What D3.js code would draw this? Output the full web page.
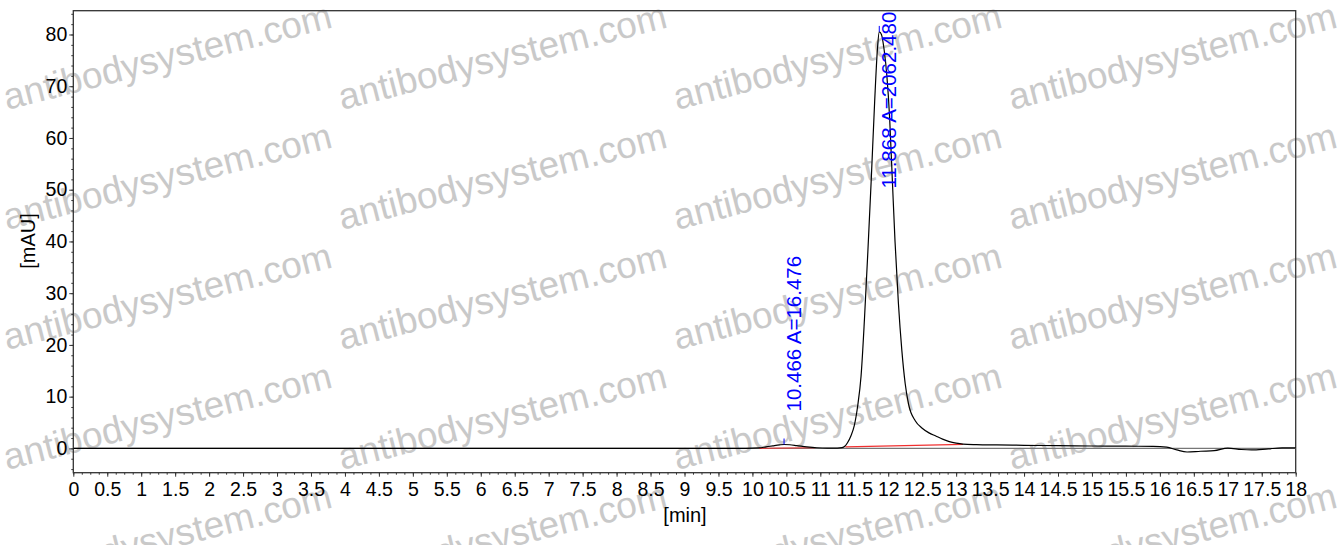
<!DOCTYPE html>
<html>
<head>
<meta charset="utf-8">
<script src="https://cdn.jsdelivr.net/npm/d3@7"></script>
<style>
  body { margin: 0; background: #fff; }
  svg { display: block; font-family: "Liberation Sans", Arial, sans-serif; }
</style>
</head>
<body>
<div id="chart"></div>
<script>
// chromatogram trace (min, mAU)
const traceTime = [0, 2, 4, 6, 8, 9.5, 9.9, 10.1, 10.2, 10.3, 10.4, 10.466, 10.55, 10.65, 10.8, 10.95, 11.1, 11.25,
  11.32, 11.36, 11.4, 11.45, 11.5, 11.55, 11.6, 11.65, 11.7, 11.75, 11.8, 11.84, 11.868, 11.9, 11.94,
  11.98, 12.02, 12.06, 12.1, 12.15, 12.2, 12.25, 12.3, 12.4, 12.5, 12.6, 12.7, 12.8, 12.9, 13.0, 13.1,
  13.3, 13.6, 14.0, 14.5, 15.0, 15.5, 15.9, 16.1, 16.25, 16.4, 16.6, 16.8, 17.0, 17.2, 17.35, 17.6, 17.8, 18.0];
const traceValue = [0, 0, 0, 0, 0, 0, 0.02, 0.1, 0.3, 0.5, 0.68, 0.75, 0.7, 0.55, 0.3, 0.12, 0.05, 0.06,
  0.15, 0.4, 1.1, 2.4, 4.4, 8.2, 14, 25, 38, 52, 67, 77, 80.5, 80, 77,
  72, 64, 52, 40, 28, 19, 12.5, 8.5, 5.3, 3.9, 3.0, 2.4, 1.8, 1.3, 1.0, 0.82,
  0.72, 0.66, 0.6, 0.52, 0.46, 0.42, 0.4, 0.25, -0.3, -0.7, -0.55, -0.45, 0.05, -0.22, -0.3, -0.08, 0.08, 0.1];

// integration baselines (red)
const baseStart = [[10.1, 0.02], [11.37, 0.3]];
const baseEnd = [[10.92, 0.12], [13.1, 0.77]];

// peak annotations
const peakTime = [10.466, 11.868];
const peakHeight = [0.75, 80.5];
const peakLabel = ["10.466 A=16.476", "11.868 A=2062.480"];

const yTicks = [0, 10, 20, 30, 40, 50, 60, 70, 80];
const xTicks = d3.range(0, 18.01, 0.5);

const W = 1338, H = 545;
const plotLeft = 73.3, plotRight = 1295.7, plotTop = 10.7, plotBottom = 472.7;

const svg = d3.select("#chart").append("svg")
  .attr("width", W).attr("height", H);

// watermark, tiled
const wm = svg.append("g").attr("class", "watermark");
[7, 342, 677, 1012].forEach(function(wx){
  [110, 230, 350, 470, 590].forEach(function(wy){
    wm.append("text")
      .attr("transform", "translate(" + wx + "," + wy + ") rotate(-14.2)")
      .style("font-size", "37px")
      .style("fill", "#c9c9c9")
      .text("antibodysystem.com");
  });
});

const x = d3.scaleLinear().domain([0, 18]).range([plotLeft, plotRight]);
const y = d3.scaleLinear().domain([-4.7, 84.6]).range([plotBottom, plotTop]);

// frame
svg.append("rect")
  .attr("x", plotLeft).attr("y", plotTop)
  .attr("width", plotRight - plotLeft).attr("height", plotBottom - plotTop)
  .style("fill", "none").style("stroke", "#333").style("stroke-width", 1.3);

// zero line
svg.append("line")
  .attr("x1", plotLeft).attr("x2", plotRight)
  .attr("y1", y(0)).attr("y2", y(0))
  .style("stroke", "#777").style("stroke-width", 1.2);

// y axis
svg.append("g")
  .attr("transform", "translate(" + plotLeft + ",0)")
  .call(d3.axisLeft(y).tickValues(yTicks).tickSize(4).tickPadding(2).tickFormat(d3.format("d")));
svg.append("g")
  .attr("transform", "translate(" + plotLeft + ",0)")
  .call(d3.axisLeft(y).tickValues(d3.range(-4, 85, 2)).tickSize(2).tickFormat(""));

// x axis
svg.append("g")
  .attr("transform", "translate(0," + plotBottom + ")")
  .call(d3.axisBottom(x).tickValues(xTicks).tickSize(4).tickPadding(5).tickFormat(d3.format("~g")));
svg.append("g")
  .attr("transform", "translate(0," + plotBottom + ")")
  .call(d3.axisBottom(x).tickValues(d3.range(0, 18.01, 0.125)).tickSize(2).tickFormat(""));

svg.selectAll(".domain").remove();
svg.selectAll(".tick line").style("stroke", "#333");
svg.selectAll(".tick text")
  .style("font-size", "19.5px")
  .style("fill", "#000")
  .style("font-family", "'Liberation Sans', Arial, sans-serif");

// axis titles
svg.append("text")
  .attr("x", 685).attr("y", 522)
  .style("text-anchor", "middle").style("font-size", "20px")
  .text("[min]");
svg.append("text")
  .attr("transform", "translate(35,241) rotate(-90)")
  .style("text-anchor", "middle").style("font-size", "20px")
  .text("[mAU]");

// baselines
svg.selectAll(".baseline")
  .data(baseStart)
  .enter().append("line")
  .attr("class", "baseline")
  .attr("x1", function(d){ return x(d[0]); })
  .attr("y1", function(d){ return y(d[1]); })
  .attr("x2", function(d, i){ return x(baseEnd[i][0]); })
  .attr("y2", function(d, i){ return y(baseEnd[i][1]); })
  .style("stroke", "#f03030").style("stroke-width", 1.2);

// trace
const pts = traceTime.map(function(t, i){ return [t, traceValue[i]]; });
const line = d3.line()
  .x(function(d){ return x(d[0]); })
  .y(function(d){ return y(d[1]); })
  .curve(d3.curveMonotoneX);
svg.append("path")
  .datum(pts)
  .attr("d", line)
  .style("fill", "none").style("stroke", "#000").style("stroke-width", 1.2);

// peak markers and labels
peakTime.forEach(function(t, i){
  const px = x(t), py = y(peakHeight[i]);
  svg.append("line")
    .attr("x1", px).attr("x2", px)
    .attr("y1", py - 6).attr("y2", py)
    .style("stroke", "#0000ff").style("stroke-width", 1);
  const lab = svg.append("text")
    .style("font-size", "20.5px")
    .style("fill", "#0000ff")
    .text(peakLabel[i]);
  const len = lab.node().getComputedTextLength();
  let ly = py - 33;
  if (ly - len < plotTop) ly = plotTop + len + 1;
  lab.attr("transform", "translate(" + (px + 17) + "," + ly + ") rotate(-90)");
});
</script>
</body>
</html>
